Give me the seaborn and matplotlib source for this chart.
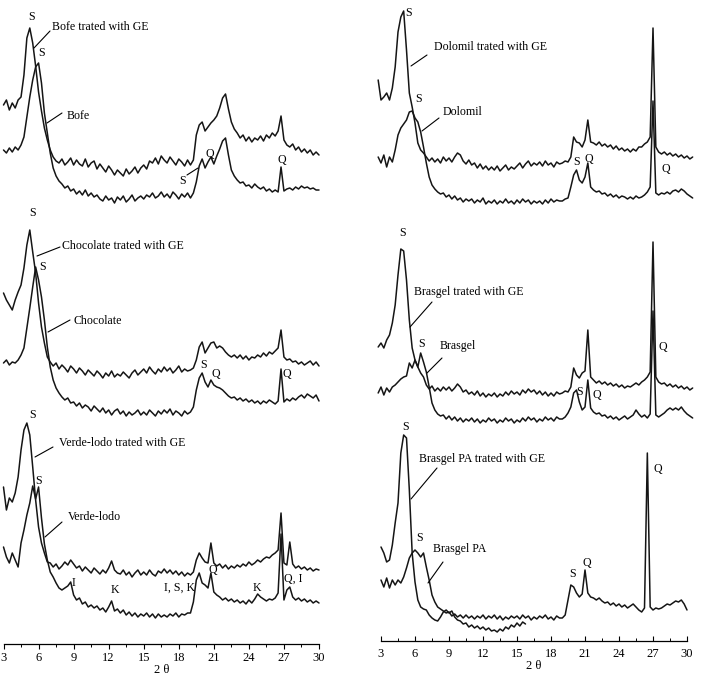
import numpy as np
import matplotlib
matplotlib.use("Agg")
import matplotlib.pyplot as plt
from matplotlib.lines import Line2D
import seaborn as sns

W, H = 702, 677

# 2-theta sampling of the scans (degrees)
two_theta = np.arange(3.0, 30.01, 0.25)          # 109 points
two_theta_wide = np.arange(2.75, 30.51, 0.25)    # 112 points (Dolomil / Brasgel scans run a bit wider)

# ---- left column: stacked intensities (arbitrary units, offsets included) ----
bofe_ge = [
    539, 544, 534, 541, 536, 544, 547, 569,
    606, 616, 601, 578, 552, 533, 516, 504,
    494, 487, 483, 481, 485, 479, 482, 486,
    479, 484, 480, 478, 485, 477, 481, 483,
    475, 480, 476, 472, 478, 474, 469, 474,
    471, 468, 475, 470, 473, 477, 471, 476,
    479, 475, 483, 481, 486, 480, 488, 484,
    481, 487, 483, 479, 485, 482, 478, 484,
    479, 484, 509, 519, 522, 513, 517, 521,
    524, 528, 536, 546, 550, 535, 522, 515,
    511, 506, 509, 503, 507, 502, 506, 504,
    508, 503, 509, 506, 511, 508, 513, 528,
    504, 499, 497, 500, 494, 497, 492, 495,
    491, 494, 489, 492, 489]
bofe = [
    494, 491, 496, 492, 497, 494, 499, 507,
    527, 547, 564, 577, 581, 561, 531, 511,
    491, 476, 468, 463, 460, 456, 458, 453,
    455, 450, 453, 449, 454, 448, 451, 447,
    449, 445, 443, 448, 444, 446, 441, 447,
    444, 448, 442, 445, 449, 443, 446, 448,
    445, 449, 447, 451, 446, 448, 452, 447,
    450, 446, 452, 449, 445, 450, 447, 451,
    446, 451, 462, 478, 485, 476, 482, 487,
    480, 488, 495, 503, 506, 489, 474, 468,
    464, 461, 462, 458, 459, 456, 460, 457,
    455, 457, 453, 455, 452, 454, 452, 477,
    453, 455, 456, 454, 457, 455, 458, 456,
    457, 455, 456, 454, 454]
choc_ge = [
    351, 344, 339, 334, 344, 352, 359, 376,
    399, 414, 392, 371, 341, 317, 301, 287,
    282, 278, 281, 275, 279, 276, 272, 278,
    275, 271, 276, 273, 269, 274, 271, 268,
    273, 270, 266, 271, 268, 273, 267, 270,
    268, 272, 269, 266, 271, 274, 269, 272,
    275, 271, 277, 273, 270, 275, 272, 277,
    273, 276, 271, 274, 278, 272, 275, 273,
    274, 276, 284, 297, 302, 291, 296, 301,
    302, 296, 298, 296, 292, 289, 287, 289,
    286, 289, 285, 288, 284, 287, 286, 289,
    287, 291, 288, 292, 290, 293, 296, 314,
    287, 284, 285, 282, 283, 280, 282, 279,
    281, 283, 279, 282, 278]
choc = [
    281, 284, 279, 282, 281, 284, 289, 296,
    316, 336, 357, 377, 364, 347, 324, 297,
    277, 264, 256, 251, 247, 244, 246, 241,
    242, 238, 241, 236, 239, 237, 233, 238,
    235, 232, 236, 231, 234, 229, 233, 235,
    230, 233, 228, 232, 229, 231, 234, 229,
    232, 229, 234, 231, 228, 233, 230, 234,
    231, 235, 229, 233, 231, 228, 233, 230,
    232, 237, 254, 266, 271, 262, 257, 264,
    259, 257, 256, 254, 251, 248, 246, 247,
    244, 246, 243, 245, 242, 244, 241, 243,
    240, 243, 241, 244, 242, 240, 243, 275,
    242, 245, 243, 246, 244, 247, 249, 246,
    250, 248, 246, 249, 243]
verde_ge = [
    157, 134, 146, 142, 151, 167, 194, 214,
    221, 209, 177, 144, 117, 101, 91, 82,
    81, 77, 80, 75, 78, 82, 79, 84,
    80, 76, 78, 73, 77, 74, 71, 76,
    73, 70, 74, 71, 76, 83, 74, 71,
    70, 74, 69, 72, 67, 71, 74, 69,
    72, 69, 74, 70, 68, 73, 71, 75,
    71, 74, 70, 73, 69, 72, 68, 71,
    69, 72, 84, 91, 86, 82, 81, 101,
    81, 78, 80, 76, 79, 75, 78, 76,
    79, 77, 80, 78, 82, 79, 81, 84,
    82, 85, 87, 86, 89, 91, 94, 131,
    81, 79, 102, 80, 76, 78, 75, 77,
    74, 76, 73, 75, 74]
verde = [
    97, 87, 81, 91, 84, 77, 101, 114,
    129, 141, 158, 145, 157, 126, 100, 84,
    72, 67, 61, 56, 54, 56, 58, 62,
    49, 44, 46, 40, 42, 37, 39, 36,
    38, 34, 36, 32, 37, 43, 33, 35,
    31, 34, 29, 32, 28, 31, 27, 30,
    28, 31, 27, 30, 26, 30, 27, 29,
    27, 30, 28, 31, 27, 30, 29, 31,
    31, 42, 64, 71, 61, 59, 56, 71,
    52, 49, 47, 44, 46, 43, 45, 42,
    44, 41, 43, 40, 44, 41, 45, 50,
    47, 45, 43, 45, 44, 46, 51, 110,
    44, 54, 57, 47, 44, 46, 43, 45,
    42, 44, 41, 43, 41]

# ---- right column ----
dolomil_ge = [
    561,
    541, 544, 548, 541, 553, 574, 609, 624,
    630, 591, 548, 534, 518, 498, 491, 488,
    484, 480, 483, 479, 482, 478, 484, 480,
    483, 479, 484, 488, 486, 480, 477, 481,
    476, 478, 473, 477, 472, 475, 471, 474,
    471, 475, 470, 473, 476, 471, 474, 472,
    475, 478, 473, 477, 480, 475, 478, 476,
    479, 475, 480, 476, 478, 474, 479, 477,
    478, 480, 479, 484, 504, 499, 498, 494,
    501, 521, 499, 498, 496, 499, 495, 497,
    494, 496, 492, 495, 491, 493, 490, 492,
    489, 492, 490, 494, 494, 497, 499, 504,
    613, 494, 489, 487, 489, 486, 488, 485,
    487, 484, 486, 483, 485, 482, 484]
dolomil = [
    484,
    478, 486, 474, 484, 479, 491, 506, 513,
    517, 521, 529, 530, 523, 519, 509, 494,
    478, 464, 456, 452, 449, 447, 448, 444,
    446, 442, 445, 441, 443, 439, 442, 440,
    442, 438, 441, 439, 443, 437, 440, 438,
    441, 437, 440, 438, 442, 438, 440, 437,
    441, 438, 442, 439, 441, 437, 440, 438,
    440, 437, 441, 438, 442, 439, 441, 440,
    440, 442, 443, 454, 466, 471, 461, 458,
    464, 478, 454, 451, 449, 450, 447, 448,
    445, 447, 444, 446, 443, 445, 444, 442,
    444, 442, 445, 443, 444, 446, 449, 454,
    540, 448, 446, 448, 447, 449, 447, 450,
    451, 449, 452, 450, 447, 445, 443]
brasgel_ge = [
    294,
    298, 293, 301, 306, 318, 336, 366, 392,
    390, 361, 321, 293, 281, 274, 268, 264,
    256, 252, 255, 250, 253, 250, 254, 251,
    254, 250, 253, 257, 254, 249, 251, 247,
    249, 246, 250, 245, 248, 244, 247, 245,
    248, 244, 247, 245, 249, 246, 250, 247,
    249, 246, 251, 248, 252, 249, 251, 247,
    250, 246, 249, 245, 248, 245, 249, 247,
    248, 250, 249, 254, 273, 266, 263, 268,
    270, 311, 264, 261, 258, 260, 257, 259,
    256, 258, 255, 257, 254, 256, 253, 255,
    254, 256, 258, 256, 259, 261, 264, 269,
    399, 264, 259, 257, 258, 255, 257, 254,
    256, 253, 255, 252, 254, 251, 253]
brasgel = [
    248,
    254, 246, 253, 249, 254, 256, 259, 262,
    264, 265, 278, 273, 281, 274, 288, 279,
    269, 254, 238, 231, 227, 225, 226, 222,
    225, 221, 224, 220, 223, 219, 222, 220,
    223, 219, 222, 218, 221, 219, 223, 220,
    222, 218, 221, 219, 223, 220, 222, 218,
    221, 219, 223, 220, 224, 221, 223, 219,
    222, 220, 224, 221, 223, 220, 224, 222,
    222, 224, 228, 234, 248, 251, 239, 231,
    234, 261, 233, 229, 227, 228, 225, 226,
    223, 225, 222, 224, 221, 223, 225, 222,
    224, 226, 231, 227, 224, 226, 223, 227,
    330, 226, 224, 226, 228, 231, 233, 231,
    233, 231, 234, 230, 227, 225, 223]
brasgel_pa_ge = [  # scan stops near 15.75 deg
    94, 88, 79, 81, 96, 118, 138, 188,
    206, 203, 151, 88, 59, 41, 34, 32,
    31, 26, 23, 21, 20, 24, 29, 31,
    28, 30, 24, 21, 20, 17, 18, 14,
    16, 13, 15, 12, 14, 11, 13, 10,
    11, 9, 12, 10, 14, 12, 16, 14,
    18, 15, 19, 17]
brasgel_pa = [
    61, 54, 63, 53, 61, 56, 61, 58,
    64, 73, 83, 88, 91, 88, 84, 88,
    74, 61, 46, 39, 34, 32, 30, 28,
    29, 25, 27, 24, 26, 23, 26, 23,
    25, 22, 25, 23, 26, 22, 25, 23,
    26, 22, 25, 21, 24, 22, 25, 23,
    25, 22, 26, 23, 25, 21, 24, 22,
    25, 23, 26, 22, 24, 21, 25, 23,
    23, 26, 41, 56, 54, 48, 44, 47,
    71, 48, 44, 43, 41, 43, 40, 38,
    39, 36, 38, 35, 37, 34, 36, 33,
    35, 37, 34, 31, 29, 33, 188, 34,
    31, 33, 32, 33, 35, 37, 36, 38,
    40, 39, 41, 37, 31]

tick_values = [3, 6, 9, 12, 15, 18, 21, 24, 27, 30]

# annotations, in picture pixels (x, y from top-left)
sample_labels = [
    ("Bofe trated with GE", 52, 27), ("Bofe", 67, 116),
    ("Chocolate trated with GE", 62, 246), ("Chocolate", 73, 321),
    ("Verde-lodo trated with GE", 59, 443), ("Verde-lodo", 68, 517),
    ("Dolomil trated with GE", 434, 47), ("Dolomil", 443, 112),
    ("Brasgel trated with GE", 414, 292), ("Brasgel", 440, 346),
    ("Brasgel PA trated with GE", 419, 459), ("Brasgel PA", 433, 549),
]
leaders = [
    (50, 31, 34, 48), (62, 113, 47, 123), (187, 175, 198, 168),
    (60, 247, 37, 256), (70, 320, 48, 332),
    (53, 447, 35, 457), (62, 522, 45, 537),
    (427, 55, 411, 66), (439, 118, 422, 131),
    (432, 302, 410, 327), (442, 358, 427, 373),
    (437, 468, 411, 499), (443, 562, 428, 583),
]
phase_labels = [
    ("S", 32, 17), ("S", 42, 53), ("S", 183, 181), ("Q", 210, 154), ("Q", 282, 160),
    ("S", 33, 213), ("S", 43, 267), ("S", 204, 365), ("Q", 216, 374), ("Q", 287, 374),
    ("S", 33, 415), ("S", 39, 481), ("I", 74, 583), ("K", 115, 590), ("I, S, K", 180, 588),
    ("Q", 213, 570), ("K", 257, 588), ("Q, I", 293, 579),
    ("S", 409, 13), ("S", 419, 99), ("S", 577, 162), ("Q", 589, 159), ("Q", 666, 169),
    ("S", 403, 233), ("S", 422, 344), ("S", 580, 392), ("Q", 597, 395), ("Q", 663, 347),
    ("S", 406, 427), ("S", 420, 538), ("S", 573, 574), ("Q", 587, 563), ("Q", 658, 469),
]

sns.set_theme(style="ticks", rc={
    "axes.edgecolor": "black", "xtick.color": "black", "text.color": "black",
    "axes.labelcolor": "black", "figure.facecolor": "white", "axes.facecolor": "white"})
plt.rcParams["font.family"] = ["Liberation Serif", "DejaVu Serif"]

fig = plt.figure(figsize=(W / 100, H / 100), dpi=100)
ax_l = fig.add_axes([3.5 / W, 33 / H, 315.5 / W, 644 / H])
ax_r = fig.add_axes([381 / W, 36 / H, 306 / W, 641 / H])

trace_style = dict(color="#151515", linewidth=1.1, estimator=None)

for y in [bofe_ge, bofe, choc_ge, choc, verde_ge, verde]:
    assert len(y) == len(two_theta)
    sns.lineplot(x=two_theta, y=y, ax=ax_l, **trace_style)

for y in [dolomil_ge, dolomil, brasgel_ge, brasgel]:
    assert len(y) == len(two_theta_wide)
    sns.lineplot(x=two_theta_wide, y=y, ax=ax_r, **trace_style)
for y in [brasgel_pa_ge, brasgel_pa]:
    sns.lineplot(x=two_theta[:len(y)], y=y, ax=ax_r, **trace_style)

for ax, top, tdir, pad in [(ax_l, 644, "out", 2), (ax_r, 641, "in", 5)]:
    for line in ax.lines:
        line.set_clip_on(False)
    ax.set_xlim(3, 30)
    ax.set_ylim(0, top)
    ax.set_xticks(tick_values)
    ax.set_xticks(np.arange(4.5, 30, 3), minor=True)
    ax.set_yticks([])
    sns.despine(ax=ax, left=True)
    ax.spines["bottom"].set_linewidth(0.9)
    ax.tick_params(axis="x", which="major", direction=tdir, length=3.5, width=0.8,
                   labelsize=9, pad=pad)
    ax.tick_params(axis="x", which="minor", direction=tdir, length=2, width=0.7)
    ax.set_xlabel("2 θ", fontsize=9, labelpad=0)
    ax.set_ylabel("")

for s, px, py in sample_labels:
    fig.text(px / W, 1 - py / H, s, ha="left", va="center", fontsize=8.6)
for s, px, py in phase_labels:
    fig.text(px / W, 1 - py / H, s, ha="center", va="center", fontsize=8.6)
for x1, y1, x2, y2 in leaders:
    fig.add_artist(Line2D([x1 / W, x2 / W], [1 - y1 / H, 1 - y2 / H],
                          transform=fig.transFigure, color="black", lw=0.8))

fig.savefig("out.png", dpi=100)
